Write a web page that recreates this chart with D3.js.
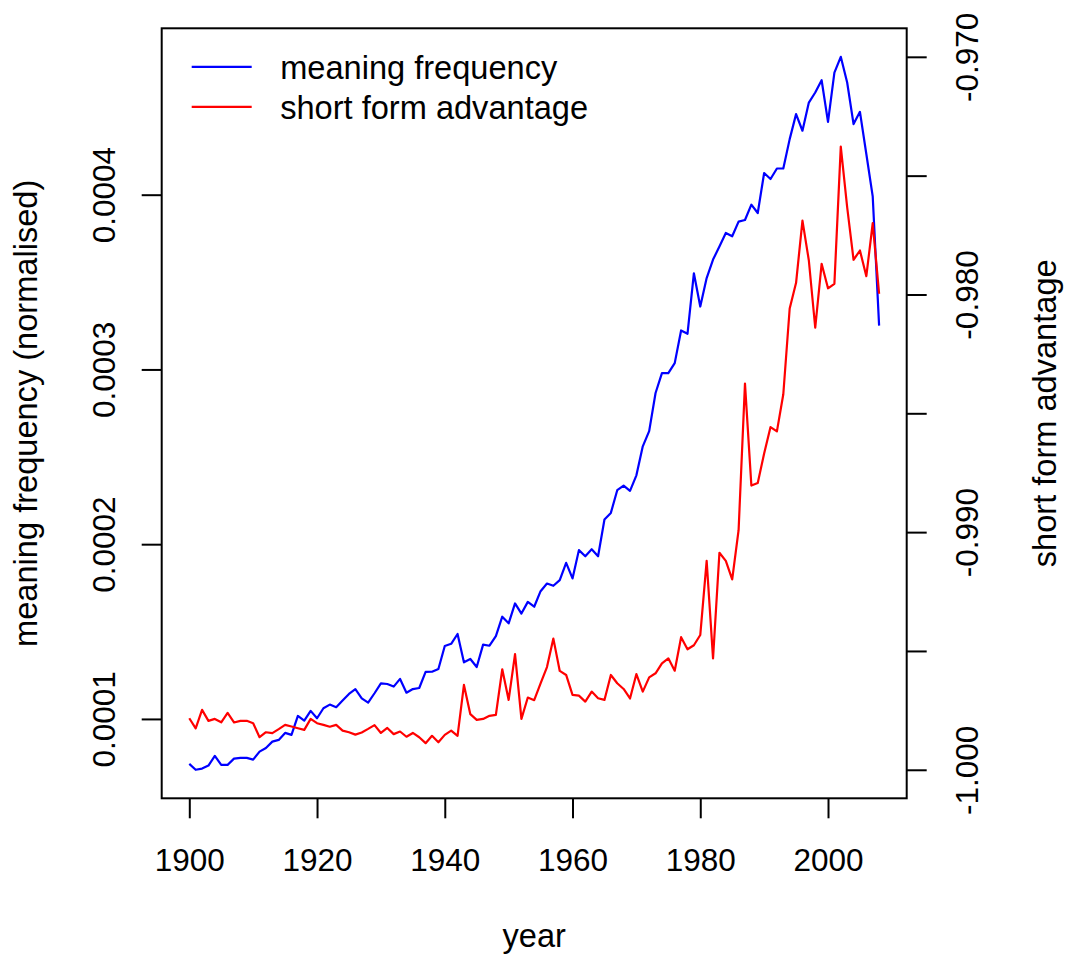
<!DOCTYPE html>
<html>
<head>
<meta charset="utf-8">
<script src="https://cdn.jsdelivr.net/npm/d3@7"></script>
<style>
  html, body { margin: 0; padding: 0; background: #fff; }
  svg { display: block; }
  text { font-family: "Liberation Sans", Arial, Helvetica, sans-serif; fill: #000; }
</style>
</head>
<body>
<svg id="chart" width="1070" height="961"></svg>
<script>
// Years 1900–2008
const years = d3.range(1900, 2009);

// Normalised frequency of the meaning, per year
const meaningFreq = [
  7.43e-5, 7.09e-5, 7.16e-5, 7.33e-5, 7.89e-5, 7.37e-5, 7.37e-5, 7.73e-5, 7.77e-5, 7.77e-5,
  7.67e-5, 8.13e-5, 8.34e-5, 8.70e-5, 8.80e-5, 9.20e-5, 9.09e-5, 1.017e-4, 9.90e-5, 1.046e-4,
  1.004e-4, 1.061e-4, 1.082e-4, 1.067e-4, 1.105e-4, 1.143e-4, 1.170e-4, 1.118e-4, 1.093e-4, 1.147e-4,
  1.204e-4, 1.200e-4, 1.185e-4, 1.229e-4, 1.150e-4, 1.171e-4, 1.177e-4, 1.269e-4, 1.270e-4, 1.286e-4,
  1.417e-4, 1.430e-4, 1.486e-4, 1.324e-4, 1.343e-4, 1.297e-4, 1.425e-4, 1.419e-4, 1.474e-4, 1.585e-4,
  1.547e-4, 1.661e-4, 1.603e-4, 1.670e-4, 1.642e-4, 1.731e-4, 1.775e-4, 1.762e-4, 1.794e-4, 1.893e-4,
  1.804e-4, 1.966e-4, 1.931e-4, 1.971e-4, 1.931e-4, 2.141e-4, 2.179e-4, 2.309e-4, 2.335e-4, 2.305e-4,
  2.394e-4, 2.560e-4, 2.647e-4, 2.865e-4, 2.979e-4, 2.979e-4, 3.036e-4, 3.223e-4, 3.204e-4, 3.550e-4,
  3.360e-4, 3.523e-4, 3.629e-4, 3.703e-4, 3.781e-4, 3.762e-4, 3.846e-4, 3.855e-4, 3.943e-4, 3.895e-4,
  4.124e-4, 4.090e-4, 4.150e-4, 4.150e-4, 4.318e-4, 4.461e-4, 4.366e-4, 4.527e-4, 4.585e-4, 4.655e-4,
  4.417e-4, 4.699e-4, 4.789e-4, 4.642e-4, 4.404e-4, 4.474e-4, 4.233e-4, 3.990e-4, 3.251e-4
];

// Advantage of the short form, per year
const shortFormAdv = [
  -0.99783, -0.99826, -0.99748, -0.99794, -0.99786, -0.99800, -0.99761, -0.99801, -0.99794, -0.99794,
  -0.99804, -0.99863, -0.99842, -0.99846, -0.99829, -0.99811, -0.99818, -0.99825, -0.99832, -0.99786,
  -0.99804, -0.99811, -0.99819, -0.99811, -0.99835, -0.99842, -0.99852, -0.99843, -0.99828, -0.99812,
  -0.99845, -0.99824, -0.99850, -0.99839, -0.99861, -0.99845, -0.99863, -0.99888, -0.99857, -0.99884,
  -0.99853, -0.99835, -0.99857, -0.99643, -0.99766, -0.99790, -0.99786, -0.99773, -0.99769, -0.99577,
  -0.99706, -0.99513, -0.99786, -0.99696, -0.99707, -0.99636, -0.99568, -0.99448, -0.99584, -0.99601,
  -0.99685, -0.99688, -0.99713, -0.99671, -0.99699, -0.99706, -0.99601, -0.99636, -0.99660, -0.99700,
  -0.99597, -0.99671, -0.99611, -0.99594, -0.99552, -0.99531, -0.99583, -0.99442, -0.99493, -0.99476,
  -0.99433, -0.99121, -0.99531, -0.99087, -0.99121, -0.99199, -0.98992, -0.98375, -0.98804, -0.98793,
  -0.98669, -0.98558, -0.98576, -0.98420, -0.98059, -0.97951, -0.97689, -0.97857, -0.98140, -0.97871,
  -0.97974, -0.97955, -0.97378, -0.97633, -0.97854, -0.97815, -0.97923, -0.97700, -0.97997
];

// Axis ticks and labels
const xTicks = [1900, 1920, 1940, 1960, 1980, 2000];
const leftTicks = [0.0001, 0.0002, 0.0003, 0.0004];
const leftTickLabels = ["0.0001", "0.0002", "0.0003", "0.0004"];
const rightTicks = [-1.0, -0.995, -0.99, -0.985, -0.98, -0.975, -0.97];
const rightTickLabels = ["-1.000", "", "-0.990", "", "-0.980", "", "-0.970"];
const rightLimits = [-1.0, -0.97];

const seriesNames = ["meaning frequency", "short form advantage"];
const seriesColors = ["#0000ff", "#ff0000"];

const xTitle = "year";
const leftTitle = "meaning frequency (normalised)";
const rightTitle = "short form advantage";

// Plot region
const plot = { left: 161.7, right: 906.7, top: 28.3, bottom: 798.3 };
const tickFontSize = 31.5;
const labelFontSize = 32.6;

// Pad a range by 4% on each side
function padded([lo, hi]) {
  const d = (hi - lo) * 0.04;
  return [lo - d, hi + d];
}

const x = d3.scaleLinear()
  .domain(padded(d3.extent(years)))
  .range([plot.left, plot.right]);

const yLeft = d3.scaleLinear()
  .domain(padded(d3.extent(meaningFreq)))
  .range([plot.bottom, plot.top]);

const yRight = d3.scaleLinear()
  .domain(padded(rightLimits))
  .range([plot.bottom, plot.top]);

const svg = d3.select("#chart");

// Data lines
const lineLeft = d3.line()
  .x((d, i) => x(years[i]))
  .y(d => yLeft(d));
const lineRight = d3.line()
  .x((d, i) => x(years[i]))
  .y(d => yRight(d));

svg.append("path")
  .datum(meaningFreq)
  .attr("d", lineLeft)
  .attr("fill", "none")
  .attr("stroke", seriesColors[0])
  .attr("stroke-width", 2.2)
  .attr("stroke-linejoin", "round");

svg.append("path")
  .datum(shortFormAdv)
  .attr("d", lineRight)
  .attr("fill", "none")
  .attr("stroke", seriesColors[1])
  .attr("stroke-width", 2.2)
  .attr("stroke-linejoin", "round");

// Frame
svg.append("rect")
  .attr("x", plot.left)
  .attr("y", plot.top)
  .attr("width", plot.right - plot.left)
  .attr("height", plot.bottom - plot.top)
  .attr("fill", "none")
  .attr("stroke", "#000")
  .attr("stroke-width", 2);

function styleAxis(g) {
  g.select(".domain").remove();
  g.selectAll(".tick line").attr("stroke", "#000").attr("stroke-width", 2);
  g.selectAll(".tick text")
    .attr("font-size", tickFontSize)
    .attr("font-family", "Liberation Sans, Arial, sans-serif")
    .attr("fill", "#000");
}

// Bottom axis
const gx = svg.append("g")
  .attr("transform", `translate(0,${plot.bottom})`)
  .call(d3.axisBottom(x).tickValues(xTicks).tickFormat(d3.format("d")).tickSize(20).tickPadding(0));
styleAxis(gx);
gx.selectAll(".tick text").attr("y", 871 - plot.bottom).attr("dy", null);

// Left axis (labels parallel to the axis)
const gl = svg.append("g")
  .attr("transform", `translate(${plot.left},0)`)
  .call(d3.axisLeft(yLeft).tickValues(leftTicks)
    .tickFormat((d, i) => leftTickLabels[i]).tickSize(20));
styleAxis(gl);
gl.selectAll(".tick text")
  .attr("x", null).attr("dy", null)
  .attr("text-anchor", "middle")
  .attr("transform", `translate(${115 - plot.left},0) rotate(-90)`);

// Right axis
const gr = svg.append("g")
  .attr("transform", `translate(${plot.right},0)`)
  .call(d3.axisRight(yRight).tickValues(rightTicks)
    .tickFormat((d, i) => rightTickLabels[i]).tickSize(20));
styleAxis(gr);
gr.selectAll(".tick text")
  .attr("x", null).attr("dy", null)
  .attr("text-anchor", "middle")
  .attr("transform", `translate(${978 - plot.right},0) rotate(-90)`);

// Axis titles
const midY = (plot.top + plot.bottom) / 2;
svg.append("text")
  .attr("x", (plot.left + plot.right) / 2)
  .attr("y", 947)
  .attr("text-anchor", "middle")
  .attr("font-size", labelFontSize)
  .text(xTitle);

svg.append("text")
  .attr("transform", `translate(37,${midY}) rotate(-90)`)
  .attr("text-anchor", "middle")
  .attr("font-size", labelFontSize)
  .text(leftTitle);

svg.append("text")
  .attr("transform", `translate(1056,${midY}) rotate(-90)`)
  .attr("text-anchor", "middle")
  .attr("font-size", labelFontSize)
  .text(rightTitle);

// Legend
const legend = svg.append("g").attr("transform", `translate(${plot.left},${plot.top})`);
seriesNames.forEach((name, i) => {
  const cy = 38.5 + i * 40;
  legend.append("line")
    .attr("x1", 30).attr("x2", 90)
    .attr("y1", cy).attr("y2", cy)
    .attr("stroke", seriesColors[i])
    .attr("stroke-width", 2.2);
  legend.append("text")
    .attr("x", 118.5)
    .attr("y", cy + 12)
    .attr("font-size", labelFontSize)
    .text(name);
});
</script>
</body>
</html>
